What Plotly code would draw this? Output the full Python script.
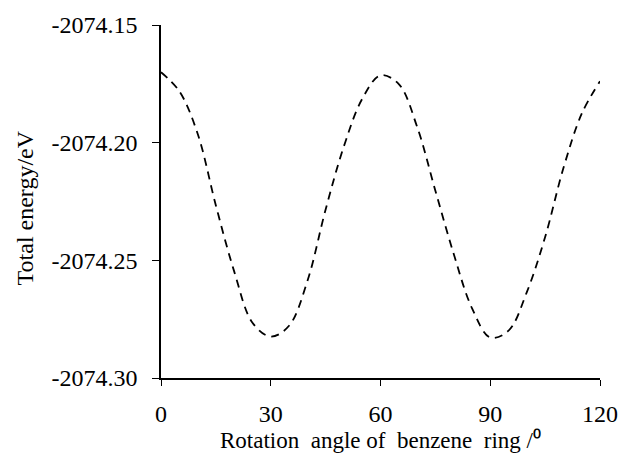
import plotly.graph_objects as go

angle = [0, 5, 10, 15, 20, 25, 30, 35, 40, 45, 50, 55, 60, 65, 70, 75, 80, 85, 90, 95, 100, 105, 110, 115, 120]
energy = [-2074.1701, -2074.1781, -2074.1961, -2074.2267, -2074.2547, -2074.2765, -2074.2824,
          -2074.2778, -2074.2589, -2074.2284, -2074.2015, -2074.1814, -2074.1714, -2074.1751,
          -2074.1932, -2074.2204, -2074.2472, -2074.2703, -2074.2828, -2074.2799, -2074.2635,
          -2074.2401, -2074.2108, -2074.1877, -2074.1739]

x_ticks = [0, 30, 60, 90, 120]
y_ticks = [-2074.30, -2074.25, -2074.20, -2074.15]
y_tick_text = ["-2074.30", "-2074.25", "-2074.20", "-2074.15"]

FONT = "Liberation Serif"

fig = go.Figure()
fig.add_trace(go.Scatter(
    x=angle, y=energy, mode="lines",
    line=dict(color="black", width=1.8, dash="8px,6px", shape="spline", smoothing=1.0),
    showlegend=False, hoverinfo="skip"))

fig.update_layout(
    width=630, height=456,
    margin=dict(l=161, r=21, t=20, b=78),
    paper_bgcolor="white", plot_bgcolor="white",
    font=dict(family=FONT, size=24, color="black"),
    xaxis=dict(range=[0, 120], tickvals=x_ticks, ticktext=[str(v) for v in x_ticks],
               showgrid=False, zeroline=False, showline=True, linecolor="black", linewidth=1.6,
               ticks="outside", ticklen=6, tickwidth=1.2, tickcolor="black",
               tickfont=dict(family=FONT, size=24), ticklabelstandoff=7),
    yaxis=dict(range=[-2074.30, -2074.15], tickvals=y_ticks, ticktext=y_tick_text,
               showgrid=False, zeroline=False, showline=True, linecolor="black", linewidth=1.6,
               ticks="outside", ticklen=7, tickwidth=1.2, tickcolor="black",
               tickfont=dict(family=FONT, size=24), ticklabelstandoff=10),
)

fig.add_annotation(text="Rotation  angle of  benzene  ring /\u2070",
                   xref="paper", yref="paper", x=0.5, y=-0.2179, xanchor="center", yanchor="bottom",
                   showarrow=False, font=dict(family=FONT, size=23))
fig.add_annotation(text="Total energy/eV", textangle=-90,
                   xref="paper", yref="paper", x=-0.31, y=0.483, xanchor="center", yanchor="middle",
                   showarrow=False, font=dict(family=FONT, size=24))

fig.write_html("out.html")
